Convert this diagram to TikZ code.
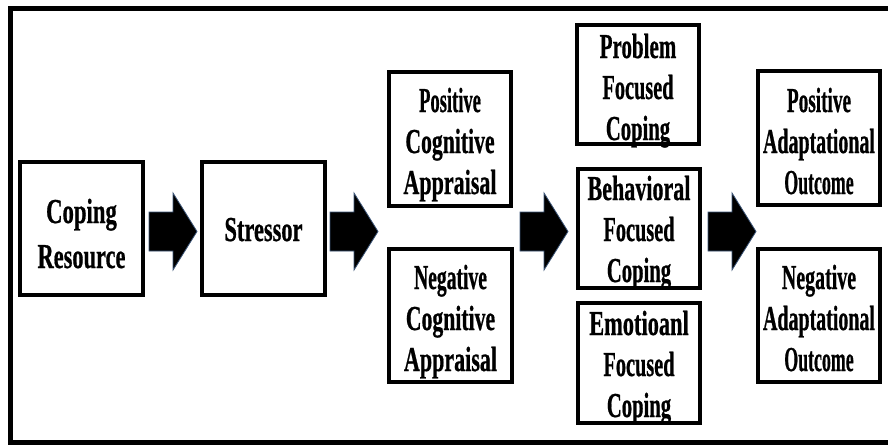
\documentclass[tikz,border=0pt]{standalone}
\usepackage{fontspec}
\setmainfont{Liberation Serif}
\newfontfamily\heavy[BoldFeatures={FakeBold=0.8}]{Liberation Serif}
\usepackage{graphicx}
\newcommand\Wl[3]{\rule{0pt}{#1pt}\smash{\scalebox{#2}[1]{#3}}}
\definecolor{arredge}{RGB}{60,85,120}
\newcommand\BlkArr[1]{\filldraw[blkarr] (#1) ++(0,-19.5) -- ++(24,0) -- ++(0,-19) -- ++(24,38.5) -- ++(-24,38.5) -- ++(0,-19) -- ++(-24,0) -- cycle;}
\begin{document}
\begin{tikzpicture}[x=1pt,y=-1pt,
  box/.style={rectangle, minimum width=122.5pt, minimum height=133.5pt, inner sep=0pt, outer sep=0pt, align=center, font=\heavy\bfseries\fontsize{35}{41}\selectfont},
  cbox/.style={box, minimum height=119.5pt},
  frame/.style={line width=3.6pt},
  blkarr/.style={fill=black, draw=arredge, line width=0.8pt, line join=miter}]
\useasboundingbox (0,0) rectangle (888,444);
\clip (0,0) rectangle (888,444);
\fill[white] (0,0) rectangle (888,444);
\draw[line width=5pt] (10.5,9) rectangle (895,442.5);

\node[box] (CR) at (81.5,228.5) {\Wl{34}{0.65}{Coping}\\[4pt]\Wl{22}{0.64}{Resource}};
\node[box] (ST) at (263.5,228.5) {\Wl{25}{0.64}{Stressor}};
\node[box] (PCA) at (450,139) {\Wl{28}{0.53}{Positive}\\\Wl{22}{0.62}{Cognitive}\\\Wl{22}{0.63}{Appraisal}};
\node[box] (NCA) at (450.5,315.5) {\Wl{29}{0.56}{Negative}\\\Wl{22}{0.62}{Cognitive}\\\Wl{22}{0.63}{Appraisal}};
\node[cbox] (PFC) at (638,84.5) {\Wl{29}{0.60}{Problem}\\\Wl{22}{0.58}{Focused}\\\Wl{22}{0.59}{Coping}};
\node[cbox] (BFC) at (639,228.5) {\Wl{25}{0.63}{Behavioral}\\\Wl{22}{0.58}{Focused}\\\Wl{22}{0.59}{Coping}};
\node[cbox] (EFC) at (639,363) {\Wl{26}{0.64}{Emotioanl}\\\Wl{22}{0.58}{Focused}\\\Wl{22}{0.59}{Coping}};
\node[box] (PAO) at (819,138) {\Wl{30}{0.55}{Positive}\\\Wl{22}{0.57}{Adaptational}\\\Wl{22}{0.51}{Outcome}};
\node[box] (NAO) at (819,315.5) {\Wl{29}{0.57}{Negative}\\\Wl{22}{0.57}{Adaptational}\\\Wl{22}{0.51}{Outcome}};

\foreach \n in {CR,ST,PCA,NCA,PFC,BFC,EFC,PAO,NAO}
  \draw[frame] (\n.north west) rectangle (\n.south east);

\coordinate (A1) at (149,231.5);
\coordinate (A2) at (330,231.5);
\coordinate (A3) at (520,231.5);
\coordinate (A4) at (708,231.5);
\BlkArr{A1}
\BlkArr{A2}
\BlkArr{A3}
\BlkArr{A4}
\end{tikzpicture}
\end{document}
